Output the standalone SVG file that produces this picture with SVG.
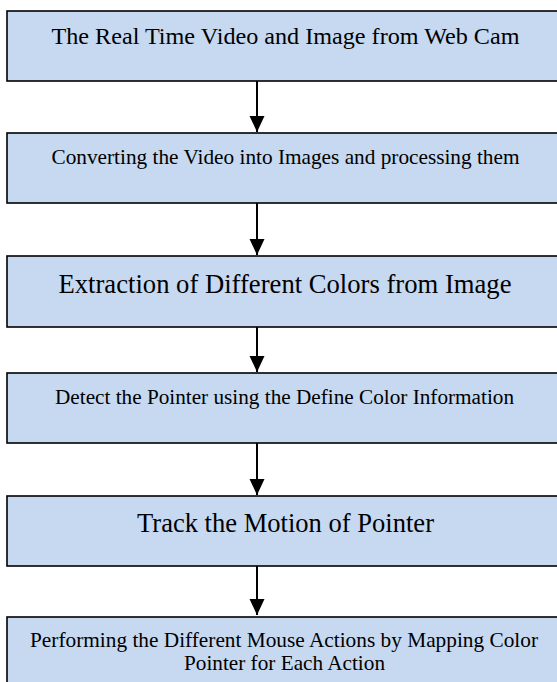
<svg xmlns="http://www.w3.org/2000/svg" width="557" height="682" viewBox="0 0 557 682">
<style>
.box{fill:#C6D9F1;stroke:#000;stroke-width:1.6}
.t{font-family:"Liberation Serif","Times New Roman",serif;fill:#000;text-anchor:middle}
.c{stroke:#000;stroke-width:2;fill:none}
</style>
<defs>
<marker id="ah" markerUnits="userSpaceOnUse" markerWidth="16" markerHeight="16" refX="16" refY="7.5" orient="auto">
<path d="M0,0 L16,7.5 L0,15 Z" fill="#000"/>
</marker>
</defs>
<rect width="557" height="682" fill="#fff"/>
<g id="n1"><rect class="box" x="7" y="11" width="560" height="70"/><text class="t" x="285.5" y="43.5" font-size="24" textLength="468" lengthAdjust="spacingAndGlyphs">The Real Time Video and Image from Web Cam</text></g>
<g id="n2"><rect class="box" x="7" y="133" width="560" height="70"/><text class="t" x="285.5" y="164" font-size="21.5" textLength="468" lengthAdjust="spacingAndGlyphs">Converting the Video into Images and processing them</text></g>
<g id="n3"><rect class="box" x="7" y="256" width="560" height="71"/><text class="t" x="285" y="292.5" font-size="26.5" textLength="453" lengthAdjust="spacingAndGlyphs">Extraction of Different Colors from Image</text></g>
<g id="n4"><rect class="box" x="7" y="373" width="560" height="70"/><text class="t" x="284.5" y="404" font-size="20.5" textLength="459" lengthAdjust="spacingAndGlyphs">Detect the Pointer using the Define Color Information</text></g>
<g id="n5"><rect class="box" x="7" y="496" width="560" height="70"/><text class="t" x="285.5" y="532" font-size="26.5" textLength="297" lengthAdjust="spacingAndGlyphs">Track the Motion of Pointer</text></g>
<g id="n6"><rect class="box" x="7" y="617" width="560" height="72"/><text class="t" x="284" y="647" font-size="21" textLength="508" lengthAdjust="spacingAndGlyphs">Performing the Different Mouse Actions by Mapping Color</text><text class="t" x="284.5" y="670" font-size="21" textLength="201" lengthAdjust="spacingAndGlyphs">Pointer for Each Action</text></g>
<g id="connectors">
<line class="c" x1="257" y1="81" x2="257" y2="132" marker-end="url(#ah)"/>
<line class="c" x1="257" y1="203" x2="257" y2="255" marker-end="url(#ah)"/>
<line class="c" x1="257" y1="327" x2="257" y2="372" marker-end="url(#ah)"/>
<line class="c" x1="257" y1="443" x2="257" y2="495" marker-end="url(#ah)"/>
<line class="c" x1="257" y1="566" x2="257" y2="615" marker-end="url(#ah)"/>
</g>
</svg>
